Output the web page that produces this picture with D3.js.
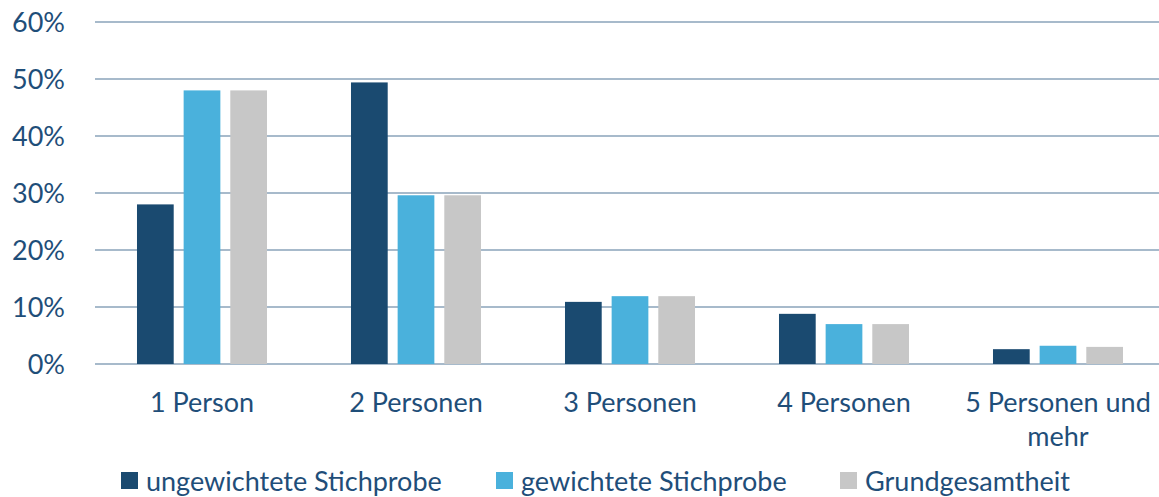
<!DOCTYPE html>
<html>
<head>
<meta charset="utf-8">
<script src="https://cdnjs.cloudflare.com/ajax/libs/d3/7.8.5/d3.min.js"></script>
<style>
  body { margin: 0; background: #fff; }
  text { font-family: Lato, "Open Sans", sans-serif; fill: #1f4e79; }
</style>
</head>
<body>
<script>
// chart data
var categories = ["1 Person", "2 Personen", "3 Personen", "4 Personen", "5 Personen und mehr"];
var seriesNames = ["ungewichtete Stichprobe", "gewichtete Stichprobe", "Grundgesamtheit"];
var ungewichtet = [28.0, 49.4, 10.9, 8.8, 2.6];
var gewichtet = [48.0, 29.6, 11.9, 7.0, 3.2];
var grundgesamtheit = [48.0, 29.6, 11.9, 7.0, 3.0];
var yTicks = [0, 10, 20, 30, 40, 50, 60];
var colors = ["#1a4a70", "#4ab1dc", "#c7c7c7"];

var allSeries = [ungewichtet, gewichtet, grundgesamtheit];

var width = 1159, height = 497;
var margin = {top: 22, left: 95, right: 0, bottom: 133};

var svg = d3.select("body").append("svg")
    .attr("width", width)
    .attr("height", height);

// plot area runs a little past the right edge of the window
var x = d3.scaleBand()
    .domain(categories)
    .range([margin.left, 1165]);

var x1 = d3.scaleBand()
    .domain(d3.range(seriesNames.length))
    .range([0, x.bandwidth()])
    .paddingInner(0.213)
    .paddingOuter(0.9);

var y = d3.scaleLinear()
    .domain([0, 60])
    .range([height - margin.bottom, margin.top]);

// gridlines
svg.append("g").selectAll("line")
    .data(yTicks)
  .enter().append("line")
    .attr("x1", margin.left)
    .attr("x2", width - margin.right)
    .attr("y1", function(d) { return y(d); })
    .attr("y2", function(d) { return y(d); })
    .attr("stroke", "#a7bacb")
    .attr("stroke-width", 2);

// y labels
svg.append("g").selectAll("text")
    .data(yTicks)
  .enter().append("text")
    .attr("x", 65)
    .attr("y", function(d) { return y(d); })
    .attr("dy", "0.36em")
    .attr("text-anchor", "end")
    .style("font-size", "27px")
    .text(function(d) { return d + "%"; });

// bars
var groups = svg.append("g").selectAll("g")
    .data(categories)
  .enter().append("g")
    .attr("transform", function(d) { return "translate(" + x(d) + ",0)"; });

groups.selectAll("rect")
    .data(function(d, i) {
      return allSeries.map(function(s, j) { return {s: j, v: s[i]}; });
    })
  .enter().append("rect")
    .attr("x", function(d) { return x1(d.s); })
    .attr("width", x1.bandwidth())
    .attr("y", function(d) { return y(d.v); })
    .attr("height", function(d) { return y(0) - y(d.v); })
    .attr("fill", function(d) { return colors[d.s]; });

// category labels (wrap the long one)
var catLines = {"5 Personen und mehr": ["5 Personen und", "mehr"]};
svg.append("g").selectAll("text")
    .data(categories)
  .enter().append("text")
    .attr("text-anchor", "middle")
    .attr("x", function(d) { return x(d) + x.bandwidth() / 2; })
    .attr("y", 412)
    .style("font-size", "27px")
    .each(function(d) {
      var lines = catLines[d] || [d];
      var t = d3.select(this);
      lines.forEach(function(l, i) {
        t.append("tspan")
          .attr("x", x(d) + x.bandwidth() / 2)
          .attr("dy", i == 0 ? 0 : "1.25em")
          .text(l);
      });
    });

// legend
var legendX = [121, 496, 840];
var legend = svg.append("g").selectAll("g")
    .data(seriesNames)
  .enter().append("g")
    .attr("transform", function(d, i) { return "translate(" + legendX[i] + ",472)"; });

legend.append("rect")
    .attr("width", 17)
    .attr("height", 17)
    .attr("fill", function(d, i) { return colors[i]; });

legend.append("text")
    .attr("x", 25)
    .attr("y", 9)
    .attr("dy", "0.36em")
    .style("font-size", "27px")
    .text(function(d) { return d; });
</script>
</body>
</html>
